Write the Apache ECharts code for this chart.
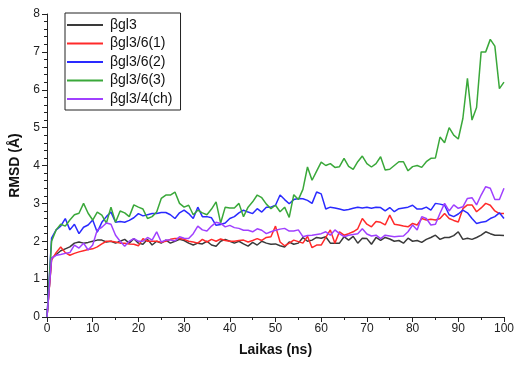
<!DOCTYPE html>
<html>
<head>
<meta charset="utf-8">
<script src="https://cdn.jsdelivr.net/npm/echarts@6/dist/echarts.min.js"></script>
<style>
html, body { margin: 0; padding: 0; background: #fff; }
#chart { width: 517px; height: 366px; }
</style>
</head>
<body>
<div id="chart"></div>
<script>
// laikas (ns)
var laikas = [0,1,2,3,4,5,6,7,8,9,10,11,12,13,14,15,16,17,18,19,20,21,22,23,24,25,26,27,28,29,30,
	31,32,33,34,35,36,37,38,39,40,41,42,43,44,45,46,47,48,49,50,51,52,53,54,55,56,57,58,59,60,
	61,62,63,64,65,66,67,68,69,70,71,72,73,74,75,76,77,78,79,80,81,82,83,84,85,86,87,88,89,90,
	91,92,93,94,95,96,97,98,99,100];

var seriesNames = ['βgl3', 'βgl3/6(1)', 'βgl3/6(2)', 'βgl3/6(3)', 'βgl3/4(ch)'];
var seriesColors = ['#3a3a3a', '#ff2a2a', '#2a2aff', '#3aa83a', '#a040ff'];

// RMSD reiksmes
var gl3 = [0,1.55,1.65,1.75,1.8,1.85,1.95,1.98,1.95,1.97,2.0,2.03,2.03,1.98,2.0,1.95,2.0,2.05,1.95,2.07,1.95,
	1.92,2.05,1.9,2.0,1.95,2.03,1.95,2.0,2.05,2.02,1.95,1.9,1.95,1.93,2.0,1.9,1.87,2.0,2.05,2.0,
	1.95,2.0,1.93,1.87,1.97,1.9,2.0,1.95,1.92,1.93,1.88,1.85,1.98,1.92,1.95,2.1,2.0,2.03,2.1,2.08,
	2.12,1.95,1.95,1.95,2.12,2.03,2.13,1.95,2.08,2.07,1.92,2.1,2.02,2.1,2.06,2.0,2.02,1.95,2.08,2.0,
	2.02,1.97,2.05,2.1,2.16,2.05,2.1,2.1,2.15,2.25,2.05,2.08,2.05,2.1,2.16,2.25,2.2,2.16,2.16,2.15];
var gl3_61 = [0,1.5,1.7,1.85,1.7,1.63,1.68,1.72,1.75,1.78,1.8,1.85,1.93,2.0,2.0,1.98,1.95,1.95,1.93,1.92,1.88,
	2.07,2.0,2.0,2.0,1.97,2.0,2.05,2.07,2.07,2.05,2.0,1.98,1.95,2.05,1.98,2.05,2.0,2.06,2.02,2.0,
	2.0,2.02,2.03,1.98,2.02,2.07,2.02,2.1,2.12,2.4,1.98,1.88,1.95,2.03,1.99,1.95,2.13,1.83,1.9,1.9,
	2.1,2.3,1.95,2.25,2.16,2.2,2.25,2.33,2.6,2.45,2.38,2.52,2.5,2.43,2.69,2.45,2.43,2.4,2.38,2.47,
	2.43,2.6,2.56,2.58,2.56,2.6,2.73,2.6,2.55,2.51,2.86,2.96,2.96,2.78,2.88,3.0,2.95,2.8,2.73,2.73];
var gl3_62 = [0,2.08,2.3,2.4,2.6,2.3,2.45,2.2,2.37,2.43,2.56,2.24,2.5,2.65,2.77,2.5,2.52,2.5,2.55,2.62,2.73,
	2.67,2.7,2.73,2.73,2.76,2.76,2.7,2.6,2.75,2.82,2.73,2.6,2.9,2.65,2.65,2.62,2.42,2.44,2.48,2.6,
	2.65,2.75,2.82,2.77,2.73,2.86,2.77,2.9,2.9,2.95,3.22,3.1,2.99,3.1,3.13,3.12,3.08,3.0,3.3,3.25,
	2.85,2.9,2.88,2.85,2.82,2.84,2.87,2.9,2.88,2.9,2.87,2.9,2.89,2.8,2.89,2.78,2.86,2.88,2.9,2.95,
	2.85,2.85,2.9,2.82,3.0,2.98,2.95,2.7,2.65,2.72,2.82,2.75,2.6,2.47,2.5,2.52,2.6,2.65,2.75,2.6];
var gl3_63 = [0,2.0,2.3,2.45,2.4,2.56,2.7,2.74,3.0,2.74,2.56,2.77,2.69,2.48,2.9,2.5,2.8,2.75,2.65,2.96,2.9,
	2.85,2.6,2.65,2.77,3.13,3.22,3.22,3.3,3.0,2.9,2.95,2.7,2.82,2.75,2.7,2.85,3.04,2.48,2.9,2.88,
	2.88,3.0,2.65,2.9,3.04,3.22,3.15,2.98,2.86,2.95,2.78,2.9,2.63,3.23,3.1,3.37,3.96,3.61,3.85,4.09,
	4.0,4.05,3.95,3.97,4.19,3.98,3.9,4.1,4.25,4.05,3.96,4.05,4.23,3.88,3.9,4.0,4.1,4.1,3.86,3.97,
	4.0,3.95,4.1,4.19,4.2,4.75,4.6,5.0,4.8,4.7,5.24,6.3,5.2,5.53,7.0,7.0,7.33,7.15,6.03,6.2];
var gl3_4ch = [0,1.55,1.63,1.65,1.68,1.7,1.9,1.82,1.95,1.77,1.9,2.3,2.37,2.48,2.45,2.16,2.0,1.87,2.0,2.07,2.0,
	2.0,2.1,2.03,2.25,1.98,2.03,2.03,2.01,2.12,2.08,2.07,2.2,2.4,2.3,2.27,2.4,2.5,2.47,2.38,2.42,
	2.36,2.34,2.29,2.29,2.25,2.33,2.29,2.2,2.25,2.29,2.32,2.34,2.27,2.27,2.3,2.12,2.15,2.16,2.18,2.2,
	2.25,2.16,2.3,2.2,2.12,2.16,2.18,2.2,2.33,2.19,2.14,2.16,2.07,2.16,2.14,2.12,2.13,2.14,2.25,2.43,
	2.3,2.65,2.6,2.43,2.45,2.74,3.0,2.8,2.96,2.87,2.91,3.13,3.15,2.96,3.22,3.44,3.4,3.1,3.1,3.4];

var allValues = [gl3, gl3_61, gl3_62, gl3_63, gl3_4ch];

var chart = echarts.init(document.getElementById('chart'), null, { renderer: 'canvas' });

function pairs(values) {
	var out = [];
	for (var i = 0; i < laikas.length; i++) {
		out.push([laikas[i], values[i]]);
	}
	return out;
}

var series = [];
for (var s = 0; s < seriesNames.length; s++) {
	series.push({
		name: seriesNames[s],
		type: 'line',
		data: pairs(allValues[s]),
		symbol: 'none',
		smooth: false,
		lineStyle: { color: seriesColors[s], width: 1.5 },
		itemStyle: { color: seriesColors[s] },
		emphasis: { disabled: true }
	});
}

var fontName = 'Liberation Sans, Arial, sans-serif';

var option = {
	animation: false,
	backgroundColor: '#fff',
	grid: { left: 47, right: 8, top: 14, bottom: 49 },
	legend: {
		orient: 'vertical',
		left: 65,
		top: 13,
		data: seriesNames,
		icon: 'rect',
		itemWidth: 36,
		itemHeight: 2,
		itemGap: 4.5,
		padding: [5, 8, 4, 2],
		borderColor: '#222',
		borderWidth: 1,
		borderRadius: 0,
		backgroundColor: '#fff',
		textStyle: { fontFamily: fontName, fontSize: 14, color: '#111', padding: [0, 0, 0, 2] }
	},
	xAxis: {
		type: 'value',
		min: 0,
		max: 100,
		interval: 10,
		name: 'Laikas (ns)',
		nameLocation: 'middle',
		nameGap: 26,
		nameTextStyle: { fontFamily: fontName, fontSize: 14, fontWeight: 'bold', color: '#111' },
		axisLine: { lineStyle: { color: '#222', width: 1 } },
		axisTick: { show: true, length: 5, lineStyle: { color: '#222' } },
		minorTick: { show: true, splitNumber: 2, length: 3, lineStyle: { color: '#222' } },
		axisLabel: { fontFamily: fontName, fontSize: 12, color: '#222', margin: 6 },
		splitLine: { show: false }
	},
	yAxis: {
		type: 'value',
		min: 0,
		max: 8,
		interval: 1,
		name: 'RMSD (Å)',
		nameLocation: 'middle',
		nameGap: 20,
		nameTextStyle: { fontFamily: fontName, fontSize: 14, fontWeight: 'bold', color: '#111' },
		axisLine: { show: true, lineStyle: { color: '#222', width: 1 } },
		axisTick: { show: true, length: 5, lineStyle: { color: '#222' } },
		minorTick: { show: true, splitNumber: 5, length: 3, lineStyle: { color: '#222' } },
		axisLabel: { fontFamily: fontName, fontSize: 12, color: '#222', margin: 7 },
		splitLine: { show: false }
	},
	series: series
};

chart.setOption(option);
</script>
</body>
</html>
